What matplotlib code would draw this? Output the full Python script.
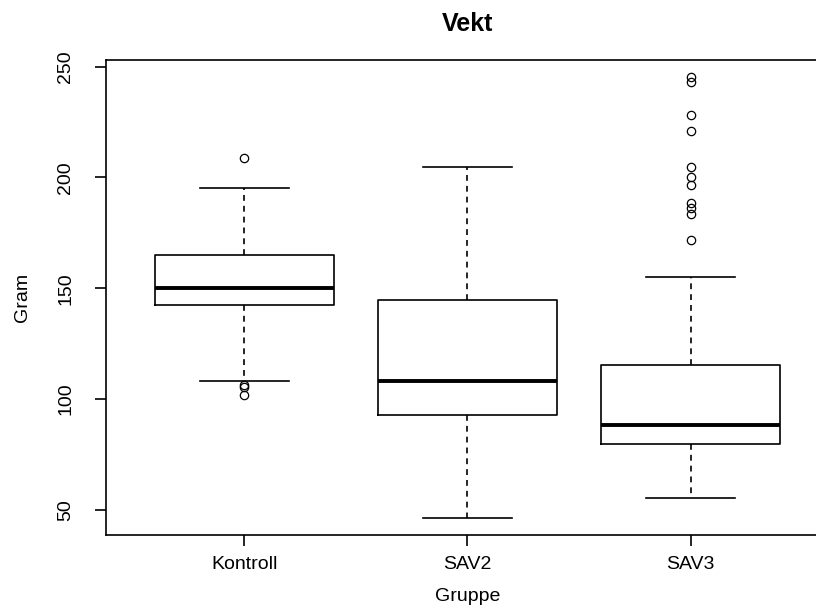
import numpy as np
import matplotlib.pyplot as plt

plt.rcParams['font.family'] = ['Liberation Sans', 'DejaVu Sans']

# values
groups = ["Kontroll", "SAV2", "SAV3"]
medians = [150.3, 108.2, 88.4]
q1 = [142.6, 92.9, 79.8]
q3 = [165.1, 144.8, 115.5]
whislo = [108.2, 46.4, 55.4]
whishi = [195.4, 204.9, 155.2]
outliers = [
    [208.9, 106.4, 105.2, 101.7],
    [],
    [245.3, 243.0, 228.3, 221.1, 204.9, 200.3, 196.7, 188.4, 186.2, 183.6, 171.9],
]

stats = []
for i, g in enumerate(groups):
    stats.append(dict(label=g, med=medians[i], q1=q1[i], q3=q3[i],
                      whislo=whislo[i], whishi=whishi[i], fliers=outliers[i]))

fig = plt.figure(figsize=(8.16, 6.08), dpi=100)
# the frame runs past the right edge of the picture, as in the original
ax = fig.add_axes([0.1299, 0.120, 0.886, 0.781])

ax.bxp(stats, positions=[1, 2, 3], widths=0.8,
       boxprops=dict(color='black', lw=1.2),
       medianprops=dict(color='black', lw=2.8, solid_capstyle='butt'),
       whiskerprops=dict(color='black', lw=1.2, linestyle=(0, (3.5, 3))),
       capprops=dict(color='black', lw=1.2),
       capwidths=0.4,
       flierprops=dict(marker='o', markersize=6, markerfacecolor='none',
                       markeredgecolor='black', markeredgewidth=0.9, linestyle='none'))

ax.set_xlim(0.38, 3.62)
ax.set_ylim(38.6, 252.9)
ax.set_yticks([50, 100, 150, 200, 250])
ax.set_xticks([1, 2, 3])
ax.set_xticklabels(groups)
ax.tick_params(axis='y', labelrotation=90, length=8, labelsize=14, pad=15, width=1.2)
ax.tick_params(axis='x', length=8, labelsize=14, pad=7, width=1.2)
for lab in ax.get_yticklabels():
    lab.set_va('center')
for s in ax.spines.values():
    s.set_linewidth(1.2)

ax.set_title("Vekt", fontsize=18, fontweight='bold', pad=21)
ax.set_xlabel("Gruppe", fontsize=14, labelpad=11)
ax.set_ylabel("Gram", fontsize=14, labelpad=19)

fig.savefig("out.png", dpi=100)
